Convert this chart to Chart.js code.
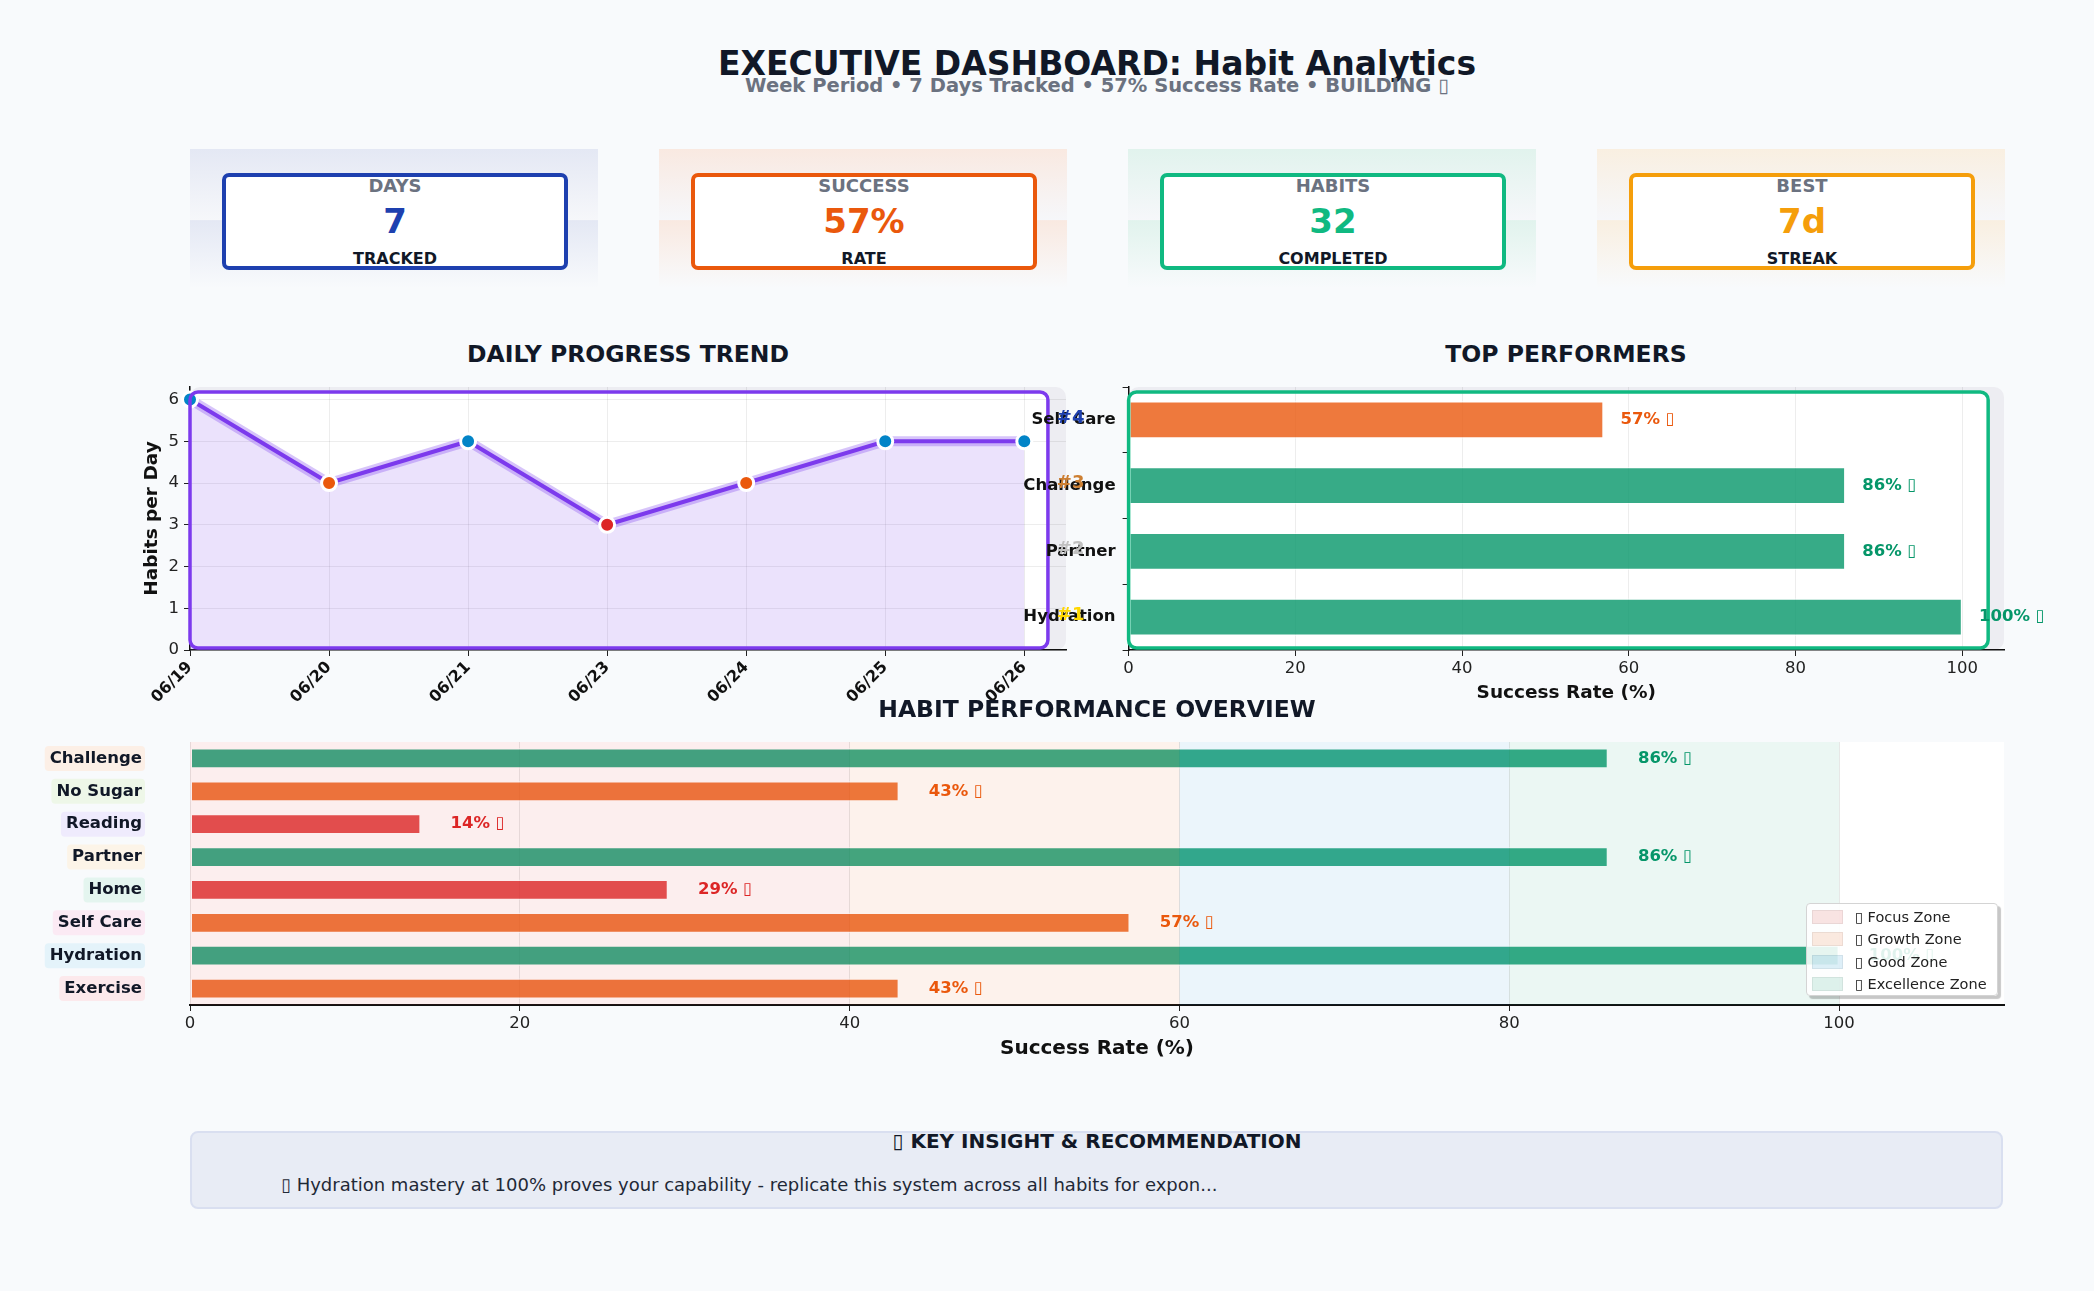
<!DOCTYPE html>
<html>
<head>
<meta charset="utf-8">
<script src="https://cdn.jsdelivr.net/npm/chart.js@4.4.0/dist/chart.umd.min.js"></script>
<style>
  body { margin:0; width:2094px; height:1291px; background:#f8fafc; font-family:"DejaVu Sans", sans-serif; position:relative; overflow:hidden; }
  canvas { position:absolute; }
  .c { position:absolute; transform:translate(-50%,-50%); white-space:nowrap; z-index:5; }
  .panel { position:absolute; width:408px; height:139px; top:149px; }
  .kpi { position:absolute; left:32px; top:24px; width:338px; height:89px; background:#fff; border:4px solid; border-radius:7px; }
  .kpi div { position:absolute; left:0; right:0; text-align:center; font-weight:bold; transform:translateY(-50%); }
  .legend { position:absolute; left:1806px; top:903px; width:190px; height:91px; background:rgba(255,255,255,0.88); border:1px solid #d4d4d4; border-radius:4px; box-shadow:3px 3px 1px rgba(0,0,0,0.22); z-index:6; }
  .legend .it { position:absolute; left:5px; font-size:14.5px; color:#222; display:flex; align-items:center; transform:translateY(-50%); white-space:nowrap; }
  .legend .sw { width:29px; height:12px; margin-right:12px; border:1px solid rgba(0,0,0,0.06); }
  .insight { position:absolute; left:190px; top:1131px; width:1809px; height:74px; background:#e8ecf5; border:2px solid #d9dff0; border-radius:8px; }
</style>
</head>
<body>
<div class="c" style="left:1097px;top:63px;font-size:33px;font-weight:bold;color:#111827">EXECUTIVE DASHBOARD: Habit Analytics</div>
<div class="c" style="left:1097px;top:85px;font-size:19.5px;font-weight:bold;color:#6b7280">Week Period • 7 Days Tracked • 57% Success Rate • BUILDING ▯</div>

<div id="cards"></div>

<div class="c" style="left:628px;top:354px;font-size:23.5px;font-weight:bold;color:#111827">DAILY PROGRESS TREND</div>
<div class="c" style="left:1566px;top:354px;font-size:23.5px;font-weight:bold;color:#111827">TOP PERFORMERS</div>
<div class="c" style="left:1097px;top:709px;font-size:23.5px;font-weight:bold;color:#111827">HABIT PERFORMANCE OVERVIEW</div>

<canvas id="trend" width="963" height="350" style="left:137px;top:370px"></canvas>
<canvas id="top" width="1094" height="338" style="left:1000px;top:370px"></canvas>
<canvas id="overview" width="2094" height="335" style="left:0;top:730px"></canvas>

<div class="legend" id="legend"></div>

<div class="insight"></div>
<div class="c" style="left:1097px;top:1141px;font-size:20px;font-weight:bold;color:#111827">▯ KEY INSIGHT &amp; RECOMMENDATION</div>
<div style="position:absolute;left:281px;top:1184px;transform:translateY(-50%);font-size:18px;color:#1f2937;white-space:nowrap;z-index:5">▯ Hydration mastery at 100% proves your capability - replicate this system across all habits for expon...</div>

<script>
// ---- data ----
var kpiTitles = ['DAYS', 'SUCCESS', 'HABITS', 'BEST'];
var kpiValues = ['7', '57%', '32', '7d'];
var kpiSubs = ['TRACKED', 'RATE', 'COMPLETED', 'STREAK'];

var trendDates = ['06/19', '06/20', '06/21', '06/23', '06/24', '06/25', '06/26'];
var trendCounts = [6, 4, 5, 3, 4, 5, 5];

var topHabits = ['Self Care', 'Challenge', 'Partner', 'Hydration'];
var topRates = [57, 86, 86, 100];
var topRanks = ['#4', '#3', '#2', '#1'];

var habits = ['Challenge', 'No Sugar', 'Reading', 'Partner', 'Home', 'Self Care', 'Hydration', 'Exercise'];
var habitRates = [86, 43, 14, 86, 29, 57, 100, 43];

var zoneNames = ['▯ Focus Zone', '▯ Growth Zone', '▯ Good Zone', '▯ Excellence Zone'];
var zoneEdges = [0, 40, 60, 80, 100];
var rateTicks = [0, 20, 40, 60, 80, 100];

// ---- styles ----
var GREEN = '#059669', ORANGE = '#ea580c', RED = '#dc2626', BLUE = '#0284c7', PURPLE = '#7c3aed';
var kpiColors = ['#1e40af', '#ea580c', '#10b981', '#f59e0b'];
var kpiTints = ['#e4e8f4', '#f9e9e1', '#e1f3ed', '#f9efe1'];
var rankColors = ['#1e40af', '#cd7f32', '#c0c0c0', '#ffd700'];
var zoneColors = ['rgba(220,38,38,0.08)', 'rgba(234,88,12,0.08)', 'rgba(2,132,199,0.08)', 'rgba(5,150,105,0.08)'];
var labelBgs = ['#fcefe6', '#eef7e8', '#efebfd', '#fcf4e8', '#e4f5ef', '#fbeaf4', '#e4f3fa', '#fce9ec'];

function rgba(hex, a) {
    var n = parseInt(hex.slice(1), 16);
    return 'rgba(' + (n >> 16) + ',' + ((n >> 8) & 255) + ',' + (n & 255) + ',' + a + ')';
}
function rateColor(v) { return v >= 80 ? GREEN : v >= 40 ? ORANGE : RED; }
function pointColor(v) { return v >= 5 ? BLUE : v >= 4 ? ORANGE : RED; }

// ---- kpi cards ----
var cards = document.getElementById('cards');
kpiTitles.forEach(function (t, i) {
    var p = document.createElement('div');
    p.className = 'panel';
    p.style.left = (190 + i * 469) + 'px';
    p.style.background = 'linear-gradient(180deg,' + kpiTints[i] + ' 0%, #f6f7fa 51%, ' + kpiTints[i] + ' 51.5%, #f8fafc 100%)';
    p.innerHTML = '<div class="kpi" style="border-color:' + kpiColors[i] + '">' +
        '<div style="top:8px;font-size:18px;color:#6b7280">' + t + '</div>' +
        '<div style="top:44px;font-size:34px;color:' + kpiColors[i] + '">' + kpiValues[i] + '</div>' +
        '<div style="top:81px;font-size:16px;color:#111827">' + kpiSubs[i] + '</div></div>';
    cards.appendChild(p);
});

// ---- legend ----
var lg = document.getElementById('legend');
zoneNames.forEach(function (z, i) {
    var d = document.createElement('div');
    d.className = 'it';
    d.style.top = (13 + i * 22.3) + 'px';
    d.innerHTML = '<span class="sw" style="background:' + zoneColors[i].replace('0.08', '0.13') + '"></span>' + z;
    lg.appendChild(d);
});

Chart.defaults.font.family = '"DejaVu Sans", sans-serif';
Chart.defaults.color = '#111';
Chart.defaults.animation = false;
Chart.defaults.responsive = false;
Chart.defaults.plugins.legend.display = false;
Chart.defaults.plugins.tooltip.enabled = false;

// framed plot background: grey panel + white rounded box with a coloured edge
function framePlugin(color, xEnd) {
    function box(chart) {
        var a = chart.chartArea;
        var r = chart.scales.x.getPixelForValue(xEnd);
        return [a.left, a.top + 5, r - a.left, a.bottom - a.top - 7];
    }
    return {
        id: 'frame',
        beforeDraw: function (chart) {
            var ctx = chart.ctx, a = chart.chartArea, b = box(chart);
            ctx.save();
            ctx.fillStyle = '#ededf2';
            ctx.beginPath(); ctx.roundRect(a.left, a.top, a.right - a.left, a.bottom - a.top, 10); ctx.fill();
            ctx.fillStyle = '#fff';
            ctx.beginPath(); ctx.roundRect(b[0], b[1], b[2], b[3], 8); ctx.fill();
            ctx.restore();
        },
        afterDatasetsDraw: function (chart) {
            var ctx = chart.ctx, b = box(chart);
            ctx.save();
            ctx.strokeStyle = color; ctx.lineWidth = 3.5;
            ctx.beginPath(); ctx.roundRect(b[0], b[1], b[2], b[3], 8); ctx.stroke();
            ctx.restore();
        }
    };
}

function valueLabels(labels, gap, size) {
    return {
        id: 'valueLabels',
        afterDraw: function (chart) {
            var ctx = chart.ctx, x = chart.scales.x, y = chart.scales.y;
            ctx.save();
            ctx.font = 'bold ' + size + 'px "DejaVu Sans"';
            ctx.textAlign = 'left'; ctx.textBaseline = 'middle';
            labels.forEach(function (v, i) {
                ctx.fillStyle = rateColor(v);
                ctx.fillText(v + '% ▯', x.getPixelForValue(v + gap), y.getPixelForValue(i));
            });
            ctx.restore();
        }
    };
}

// ---- daily trend ----
var trendPts = trendCounts.map(function (v, i) { return { x: i, y: v }; });
new Chart(document.getElementById('trend'), {
    type: 'line',
    data: {
        datasets: [{
            data: trendPts,
            borderColor: PURPLE, borderWidth: 4,
            backgroundColor: 'rgba(124,58,237,0.15)', fill: 'origin',
            pointRadius: 7.5, pointBorderWidth: 3, pointBorderColor: '#fff',
            pointBackgroundColor: trendCounts.map(pointColor),
            clip: false
        }, {
            data: trendPts,
            borderColor: 'rgba(124,58,237,0.3)', borderWidth: 10,
            pointRadius: 0, fill: false
        }]
    },
    options: {
        layout: { padding: { top: 17, right: 34, left: 0, bottom: 0 } },
        plugins: { filler: { drawTime: 'beforeDatasetsDraw' } },
        scales: {
            x: {
                type: 'linear', min: 0, max: 6.3,
                afterBuildTicks: function (s) { s.ticks = trendDates.map(function (d, i) { return { value: i }; }); },
                afterFit: function (s) { s.height = 70; s.paddingLeft = 0; s.paddingRight = 0; },
                ticks: {
                    callback: function (v) { return trendDates[v]; },
                    autoSkip: false, minRotation: 45, maxRotation: 45, padding: 2,
                    font: { size: 16, weight: 'bold' }, color: '#111'
                },
                grid: { color: 'rgba(0,0,0,0.07)', tickColor: '#222', tickLength: 6 },
                border: { color: '#111', width: 1.5 }
            },
            y: {
                min: 0, max: 6.3,
                afterBuildTicks: function (s) { s.ticks = [0, 1, 2, 3, 4, 5, 6].map(function (v) { return { value: v }; }); },
                afterFit: function (s) { s.width = 53; s.paddingTop = 0; s.paddingBottom = 0; },
                ticks: { font: { size: 16.5 }, color: '#222', padding: 5 },
                grid: { color: 'rgba(0,0,0,0.07)', tickColor: '#222', tickLength: 6 },
                border: { color: '#111', width: 1.5 },
                title: { display: true, text: 'Habits per Day', font: { size: 18.5, weight: 'bold' }, color: '#111' }
            }
        }
    },
    plugins: [framePlugin(PURPLE, 6.17)]
});

// ---- top performers ----
var rankPlugin = {
    id: 'ranks',
    afterDraw: function (chart) {
        var ctx = chart.ctx, y = chart.scales.y, a = chart.chartArea;
        ctx.save();
        ctx.font = 'bold 18px "DejaVu Sans"';
        ctx.textAlign = 'center'; ctx.textBaseline = 'middle';
        topRanks.forEach(function (r, i) {
            ctx.fillStyle = rankColors[i];
            ctx.fillText(r, a.left - 58, y.getPixelForValue(i) - 2);
        });
        ctx.restore();
    }
};
new Chart(document.getElementById('top'), {
    type: 'bar',
    data: {
        labels: topHabits,
        datasets: [{
            data: topRates,
            backgroundColor: topRates.map(function (v) { return rgba(rateColor(v), 0.8); }),
            borderColor: 'rgba(255,255,255,0.6)', borderWidth: 1.5, borderSkipped: false,
            barPercentage: 0.575, categoryPercentage: 1
        }]
    },
    options: {
        indexAxis: 'y',
        layout: { padding: { top: 17, right: 90, left: 0, bottom: 0 } },
        scales: {
            x: {
                z: 1,
                min: 0, max: 105,
                afterBuildTicks: function (s) { s.ticks = rateTicks.map(function (v) { return { value: v }; }); },
                afterFit: function (s) { s.height = 58; s.paddingLeft = 0; s.paddingRight = 0; },
                ticks: { font: { size: 16.5 }, color: '#222', padding: 3 },
                grid: { color: 'rgba(0,0,0,0.07)', tickColor: '#222', tickLength: 6 },
                border: { color: '#111', width: 1.5 },
                title: { display: true, text: 'Success Rate (%)', font: { size: 18.5, weight: 'bold' }, color: '#111' }
            },
            y: {
                afterFit: function (s) { s.width = 128.6; s.paddingTop = 0; s.paddingBottom = 0; },
                ticks: { font: { size: 16.5, weight: 'bold' }, color: '#111', padding: 7 },
                grid: { color: 'rgba(0,0,0,0)', tickColor: '#222', tickLength: 6 },
                border: { color: '#111', width: 1.5 }
            }
        }
    },
    plugins: [framePlugin('#10b981', 103.1), valueLabels(topRates, 2, 16.5), rankPlugin]
});

// ---- overview ----
var zonePlugin = {
    id: 'zones',
    beforeDraw: function (chart) {
        var ctx = chart.ctx, a = chart.chartArea, y = chart.scales.y;
        ctx.save();
        ctx.fillStyle = '#fff';
        ctx.fillRect(a.left, a.top, a.right - a.left, a.bottom - a.top);
        // tick label backgrounds
        ctx.font = 'bold 16.5px "DejaVu Sans"';
        var right = a.left - 48;
        habits.forEach(function (h, i) {
            var w = ctx.measureText(h).width, cy = y.getPixelForValue(i);
            ctx.fillStyle = labelBgs[i];
            ctx.beginPath(); ctx.roundRect(right - w - 5, cy - 12.5, w + 8, 25, 4); ctx.fill();
        });
        ctx.restore();
    },
    // zones are laid over the bars, as in the original
    afterDatasetsDraw: function (chart) {
        var ctx = chart.ctx, a = chart.chartArea, x = chart.scales.x;
        ctx.save();
        zoneColors.forEach(function (c, i) {
            var l = x.getPixelForValue(zoneEdges[i]), r = x.getPixelForValue(zoneEdges[i + 1]);
            ctx.fillStyle = c;
            ctx.fillRect(l, a.top, r - l, a.bottom - a.top);
        });
        ctx.restore();
    }
};
new Chart(document.getElementById('overview'), {
    type: 'bar',
    data: {
        labels: habits,
        datasets: [{
            data: habitRates,
            backgroundColor: habitRates.map(function (v) { return rgba(rateColor(v), 0.8); }),
            borderColor: 'rgba(255,255,255,0.6)', borderWidth: 1.5, borderSkipped: false,
            barPercentage: 0.63, categoryPercentage: 1
        }]
    },
    options: {
        indexAxis: 'y',
        layout: { padding: { top: 12, right: 90, left: 0, bottom: 0 } },
        scales: {
            x: {
                z: 1,
                min: 0, max: 110,
                afterBuildTicks: function (s) { s.ticks = rateTicks.map(function (v) { return { value: v }; }); },
                afterFit: function (s) { s.height = 60; s.paddingLeft = 0; s.paddingRight = 0; },
                ticks: { font: { size: 16.5 }, color: '#222', padding: 3 },
                grid: { color: 'rgba(0,0,0,0.09)', tickColor: '#222', tickLength: 6 },
                border: { color: '#111', width: 2 },
                title: { display: true, text: 'Success Rate (%)', font: { size: 20, weight: 'bold' }, color: '#111' }
            },
            y: {
                afterFit: function (s) { s.width = 190; s.paddingTop = 0; s.paddingBottom = 0; },
                ticks: { font: { size: 16.5, weight: 'bold' }, color: '#111827', padding: 48 },
                grid: { display: false, drawTicks: false },
                border: { display: false }
            }
        }
    },
    plugins: [zonePlugin, valueLabels(habitRates, 1.8, 16.5)]
});
</script>
</body>
</html>
